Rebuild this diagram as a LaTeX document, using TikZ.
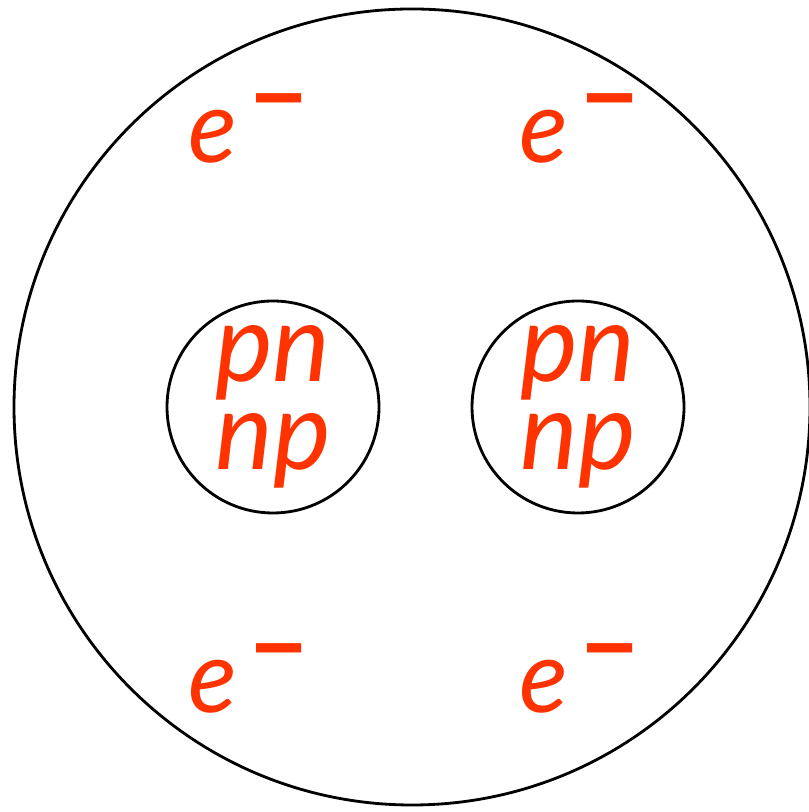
\documentclass[tikz,border=0pt]{standalone}
\usepackage{xcolor}
\usepackage{fontspec}
\usepackage{tikz}
\newfontfamily\partfont{Lato}
\definecolor{partred}{RGB}{255,51,0}
\tikzset{
  nucleus/.style={draw, circle, line width=0.8pt, minimum size=2.12cm, inner sep=0pt,
    text=partred, align=center, font=\partfont\itshape\fontsize{31}{25}\selectfont},
  electron/.style={text=partred, inner sep=0pt, font=\partfont\itshape\fontsize{29}{23}\selectfont}
}
\newcommand{\elec}{e\hspace{0.12em}\raisebox{0.3cm}{\upshape\bfseries −}}

\begin{document}
\begin{tikzpicture}
\useasboundingbox (0,0) rectangle (8.08,8.12);
\draw[line width=0.8pt] (4.12,4.05) circle (3.98);
\node[nucleus] (nucL) at (2.73,4.05) {pn\\np};
\node[nucleus] (nucR) at (5.78,4.05) {pn\\np};
\node[electron] (eTL) at (2.49,6.84) {\elec};
\node[electron] (eTR) at (5.80,6.84) {\elec};
\node[electron] (eBL) at (2.49,1.34) {\elec};
\node[electron] (eBR) at (5.80,1.34) {\elec};
\end{tikzpicture}
\end{document}
